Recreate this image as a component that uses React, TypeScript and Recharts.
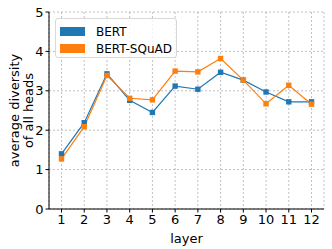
import { LineChart, Line, XAxis, YAxis, CartesianGrid } from "recharts";

const layers = [1, 2, 3, 4, 5, 6, 7, 8, 9, 10, 11, 12];
const bert = [1.4, 2.19, 3.43, 2.76, 2.45, 3.12, 3.04, 3.47, 3.27, 2.97, 2.72, 2.72];
const bertSquad = [1.27, 2.09, 3.39, 2.81, 2.77, 3.5, 3.48, 3.82, 3.27, 2.67, 3.14, 2.66];
const yTicks = [0, 1, 2, 3, 4, 5];

const BLUE = "#1f77b4";
const ORANGE = "#ff7f0e";
const FONT = "DejaVu Sans, sans-serif";

const data = layers.map((layer, i) => ({
  layer,
  BERT: bert[i],
  "BERT-SQuAD": bertSquad[i],
}));

function Square(props: any) {
  const { cx, cy, stroke } = props;
  if (cx == null || cy == null) return null;
  return <rect x={cx - 2.7} y={cy - 2.7} width={5.4} height={5.4} fill={stroke} />;
}

function LegendBox() {
  const items = [
    { name: "BERT", color: BLUE },
    { name: "BERT-SQuAD", color: ORANGE },
  ];
  return (
    <div
      style={{
        position: "absolute",
        left: 55,
        top: 18,
        width: 122,
        height: 40,
        border: "1px solid #d8d8d8",
        borderRadius: 3,
        background: "rgba(255,255,255,0.8)",
        boxSizing: "border-box",
        padding: "4px 0 0 4px",
        fontFamily: FONT,
        fontSize: 12,
      }}
    >
      {items.map((it) => (
        <div key={it.name} style={{ display: "flex", alignItems: "center", height: 17 }}>
          <span style={{ display: "inline-block", width: 25, height: 9, background: it.color, marginRight: 11 }} />
          <span style={{ color: "#000" }}>{it.name}</span>
        </div>
      ))}
    </div>
  );
}

function YLabel(props: any) {
  const { viewBox } = props;
  const cy = viewBox.y + viewBox.height / 2;
  return (
    <g fontFamily={FONT} fontSize={13} fill="#000">
      <text x={14} y={cy} transform={`rotate(-90 14 ${cy})`} textAnchor="middle" dominantBaseline="central">
        average diversity
      </text>
      <text x={28} y={cy} transform={`rotate(-90 28 ${cy})`} textAnchor="middle" dominantBaseline="central">
        of all heads
      </text>
    </g>
  );
}

export default function App() {
  return (
    <div style={{ position: "absolute", left: 0, top: 0, width: 332, height: 249, background: "#fff" }}>
      <LineChart width={332} height={249} data={data} margin={{ top: 12, right: 8, left: 0, bottom: 0 }}>
        <CartesianGrid stroke="#b0b0b0" strokeDasharray="2 2" strokeWidth={0.8} />
        <XAxis
          dataKey="layer"
          type="number"
          domain={[0.45, 12.55]}
          ticks={layers}
          interval={0}
          height={40}
          tickSize={3.5}
          stroke="#000"
          tick={{ fill: "#000", fontFamily: FONT, fontSize: 13 }}
          label={{ value: "layer", position: "insideBottom", offset: 6, fill: "#000", fontFamily: FONT, fontSize: 13 }}
        />
        <XAxis xAxisId="top" orientation="top" dataKey="layer" type="number" domain={[0.45, 12.55]} height={0} tick={false} tickLine={false} stroke="#000" />
        <YAxis
          type="number"
          domain={[0, 5]}
          ticks={yTicks}
          width={49}
          tickSize={3.5}
          stroke="#000"
          tick={{ fill: "#000", fontFamily: FONT, fontSize: 13 }}
          label={<YLabel />}
        />
        <YAxis yAxisId="right" orientation="right" domain={[0, 5]} width={0} tick={false} tickLine={false} stroke="#000" />
        <Line
          dataKey="BERT"
          stroke={BLUE}
          strokeWidth={1.2}
          dot={<Square />}
          activeDot={false}
          isAnimationActive={false}
        />
        <Line
          dataKey="BERT-SQuAD"
          stroke={ORANGE}
          strokeWidth={1.2}
          dot={<Square />}
          activeDot={false}
          isAnimationActive={false}
        />
      </LineChart>
      <LegendBox />
    </div>
  );
}
